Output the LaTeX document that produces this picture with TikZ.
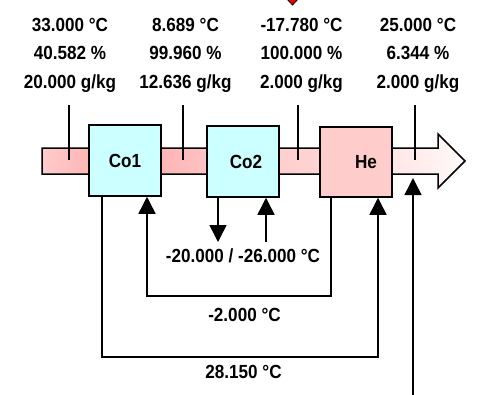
\documentclass[tikz,border=0pt]{standalone}
\usepackage{fontspec}
\usepackage{graphicx}
\setmainfont{Liberation Sans}
\usetikzlibrary{arrows.meta}
\definecolor{coolc}{HTML}{CCFFFF}
\definecolor{heatc}{HTML}{FFCCCC}
\definecolor{redmark}{HTML}{EE0000}
\pgfdeclarehorizontalshading{pipeshade}{100bp}{%
  color(0bp)=(red!20!white);
  color(25bp)=(red!20!white);
  color(30.6bp)=(red!29!white);
  color(39.1bp)=(red!29!white);
  color(44.5bp)=(red!24!white);
  color(53bp)=(red!19!white);
  color(57.9bp)=(red!17!white);
  color(66.4bp)=(red!10!white);
  color(75bp)=(red!2!white);
  color(100bp)=(red!2!white)}
\newcommand\tx[1]{\scalebox{0.9}[1]{#1}}
\tikzset{
  every picture/.style={line width=1.5pt},
  val/.style={anchor=base, inner sep=0pt, font=\fontsize{19}{19}\selectfont\bfseries},
  unitbox/.style={draw=black, line width=1.5pt, minimum width=72pt, minimum height=71pt, inner sep=0pt,
    font=\fontsize{19}{19}\selectfont\bfseries},
  arr/.style={-{Triangle[width=17pt,length=17pt]}},
}
\begin{document}
\begin{tikzpicture}[x=1pt,y=-1pt]
\useasboundingbox (0,0) rectangle (486,394);
% red marker at top
\draw[fill=redmark, line width=0.8pt] (285,-3) -- (292.5,5) -- (300,-3);
% pipe
\shade[shading=pipeshade] (42,148) -- (438,148) -- (438,134) -- (465,161) -- (438,188) -- (438,174) -- (42,174) -- cycle;
\draw (42,148) -- (438,148) -- (438,134) -- (465,161) -- (438,188) -- (438,174) -- (42,174) -- cycle;
% values
\node[val] (t1) at (70,31) {\tx{33.000 °C}};
\node[val] (r1) at (70,59.5) {\tx{40.582 \%}};
\node[val] (g1) at (70,88) {\tx{20.000 g/kg}};
\node[val] (t2) at (185.5,31) {\tx{8.689 °C}};
\node[val] (r2) at (185.5,59.5) {\tx{99.960 \%}};
\node[val] (g2) at (185.5,88) {\tx{12.636 g/kg}};
\node[val] (t3) at (301.5,31) {\tx{-17.780 °C}};
\node[val] (r3) at (301.5,59.5) {\tx{100.000 \%}};
\node[val] (g3) at (301.5,88) {\tx{2.000 g/kg}};
\node[val] (t4) at (418,31) {\tx{25.000 °C}};
\node[val] (r4) at (418,59.5) {\tx{6.344 \%}};
\node[val] (g4) at (418,88) {\tx{2.000 g/kg}};
% taps
\coordinate (a1) at (69,105); \coordinate (b1) at (69,160);
\coordinate (a2) at (183,105); \coordinate (b2) at (183,160);
\coordinate (a3) at (298,105); \coordinate (b3) at (298,160);
\coordinate (a4) at (415,105); \coordinate (b4) at (415,160);
\draw (a1) -- (b1);
\draw (a2) -- (b2);
\draw (a3) -- (b3);
\draw (a4) -- (b4);
% units
\node[unitbox, fill=coolc] (Co1) at (125,160.5) {\raisebox{-2.5pt}{\tx{Co1}}};
\node[unitbox, fill=coolc] (Co2) at (243,161.5) {\raisebox{-2.5pt}{\hspace*{6pt}\tx{Co2}}};
\node[unitbox, fill=heatc, minimum height=70pt] (He) at (356,162) {\raisebox{-2.5pt}{\hspace*{20pt}\tx{He}}};
% Co2 loop
\coordinate (d1) at (218,242);
\coordinate (u1) at (266,242);
\draw[arr] ([xshift=-25pt]Co2.south) -- (d1);
\draw[arr] (u1) -- ([xshift=23pt]Co2.south);
\node[val] (l1) at (243,262) {\tx{-20.000 / -26.000 °C}};
% inner loop
\draw[arr] ([xshift=-25pt]He.south) |- (240,296) -| ([xshift=22pt]Co1.south);
\node[val] (l2) at (244.5,321) {\tx{-2.000 °C}};
% outer loop
\draw[arr] ([xshift=-23pt]Co1.south) |- (240,357) -| ([xshift=22pt]He.south);
\node[val] (l3) at (243.5,378) {\tx{28.150 °C}};
% air inlet
\coordinate (in0) at (413,396);
\coordinate (in1) at (413,178);
\draw[arr] (in0) -- (in1);
\end{tikzpicture}
\end{document}
